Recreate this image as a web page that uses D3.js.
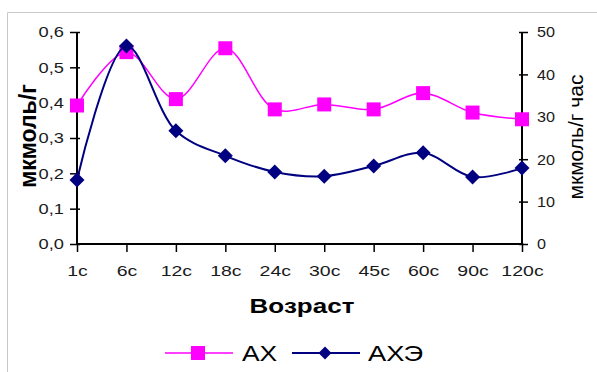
<!DOCTYPE html>
<html>
<head>
<meta charset="utf-8">
<script src="https://cdn.jsdelivr.net/npm/d3@7"></script>
<style>
  html, body { margin: 0; padding: 0; background: #fff; }
  svg { display: block; font-family: "Liberation Sans", Arial, sans-serif; }
</style>
</head>
<body>
<svg id="chart" width="597" height="372"></svg>
<script>
// Age groups (days)
const categories = ["1с", "6с", "12с", "18с", "24с", "30с", "45с", "60с", "90с", "120с"];
// АХ, мкмоль/г (left axis)
const axValues = [0.392, 0.543, 0.41, 0.554, 0.381, 0.395, 0.381, 0.427, 0.372, 0.353];
// АХЭ, мкмоль/г час (right axis)
const acheValues = [15.1, 46.7, 26.7, 20.8, 17.0, 16.0, 18.4, 21.5, 15.8, 17.9];
const leftTicks = [0, 0.1, 0.2, 0.3, 0.4, 0.5, 0.6];
const rightTicks = [0, 10, 20, 30, 40, 50];
const seriesNames = ["АХ", "АХЭ"];

const svg = d3.select("#chart");
const plot = { left: 77, right: 522, top: 32, bottom: 244 };

// widen horizontal text the way the old renderer spaced it
function widen(sel, factor) {
  sel.each(function () {
    const w = this.getComputedTextLength();
    d3.select(this).attr("textLength", (w * factor).toFixed(1)).attr("lengthAdjust", "spacingAndGlyphs");
  });
}

// outer frame
svg.append("path")
  .attr("d", "M7.5,400 V12.5 H600")
  .attr("fill", "none").attr("stroke", "#c8c8c8").attr("stroke-width", 1);

const x = d3.scalePoint().domain(categories).range([plot.left, plot.right]);
const yL = d3.scaleLinear().domain([0, 0.6]).range([plot.bottom, plot.top]);
const yR = d3.scaleLinear().domain([0, 50]).range([plot.bottom, plot.top]);

const fmtL = v => d3.format(".1f")(v).replace(".", ",");

// left axis
const gL = svg.append("g").attr("transform", `translate(${plot.left},0)`)
  .call(d3.axisLeft(yL).tickValues(leftTicks).tickFormat(fmtL).tickSize(7).tickPadding(6));
gL.selectAll(".tick line").attr("x1", 3).attr("x2", -7);
// right axis
const gR = svg.append("g").attr("transform", `translate(${plot.right},0)`)
  .call(d3.axisRight(yR).tickValues(rightTicks).tickSize(6).tickPadding(9));
gR.selectAll(".tick line").attr("x1", -3).attr("x2", 6);
// bottom axis
const gB = svg.append("g").attr("transform", `translate(0,${plot.bottom})`)
  .call(d3.axisBottom(x).tickSize(8).tickPadding(16));
gB.selectAll(".tick line").attr("y1", -1).attr("y2", 8);

[gL, gR, gB].forEach(g => {
  g.select(".domain").attr("stroke", "#000").attr("stroke-width", 2);
  g.selectAll(".tick line").attr("stroke", "#000").attr("stroke-width", 1.5);
  g.selectAll(".tick text").attr("fill", "#1a1a1a")
    .attr("font-family", "Liberation Sans, Arial, sans-serif").attr("font-size", 15);
});
gL.select(".domain").attr("d", `M0,${plot.bottom}V${plot.top}`);
gR.select(".domain").attr("d", `M0,${plot.bottom}V${plot.top}`);
gB.select(".domain").attr("d", `M${plot.left},0H${plot.right}`);
gB.selectAll(".tick text").attr("dy", "0.55em");

widen(gL.selectAll(".tick text"), 1.22);
widen(gR.selectAll(".tick text"), 1.08);
widen(gB.selectAll(".tick text"), 1.3);

// axis titles
svg.append("text")
  .attr("transform", "translate(36,136) rotate(-90)")
  .attr("text-anchor", "middle")
  .attr("font-size", 23).attr("font-weight", "bold").attr("fill", "#000")
  .text("мкмоль/г");
svg.append("text")
  .attr("transform", "translate(583,137) rotate(-90)")
  .attr("text-anchor", "middle")
  .attr("font-size", 21).attr("fill", "#000")
  .text("мкмоль/г час");
const xTitle = svg.append("text")
  .attr("x", 302).attr("y", 313)
  .attr("text-anchor", "middle")
  .attr("font-size", 20).attr("font-weight", "bold").attr("fill", "#000")
  .text("Возраст");
widen(xTitle, 1.3);

const curve = d3.curveCatmullRom.alpha(0.5);

// АХ series
const axLine = d3.line().x((d, i) => x(categories[i])).y(d => yL(d)).curve(curve);
svg.append("path").datum(axValues)
  .attr("d", axLine).attr("fill", "none").attr("stroke", "#ff00ff").attr("stroke-width", 1.5);
svg.selectAll(".axm").data(axValues).enter().append("rect")
  .attr("x", (d, i) => x(categories[i]) - 7).attr("y", d => yL(d) - 7)
  .attr("width", 14).attr("height", 14).attr("fill", "#ff00ff");

// АХЭ series
const acheLine = d3.line().x((d, i) => x(categories[i])).y(d => yR(d)).curve(curve);
svg.append("path").datum(acheValues)
  .attr("d", acheLine).attr("fill", "none").attr("stroke", "#000080").attr("stroke-width", 2);
const diamond = (cx, cy, r) => `M${cx},${cy - r}L${cx + r},${cy}L${cx},${cy + r}L${cx - r},${cy}Z`;
svg.selectAll(".achem").data(acheValues).enter().append("path")
  .attr("d", (d, i) => diamond(x(categories[i]), yR(d), 7.5))
  .attr("fill", "#000080");

// legend
const lg = svg.append("g");
lg.append("line").attr("x1", 165).attr("x2", 233).attr("y1", 353).attr("y2", 353)
  .attr("stroke", "#ff00ff").attr("stroke-width", 1.5);
lg.append("rect").attr("x", 191).attr("y", 346).attr("width", 14).attr("height", 14).attr("fill", "#ff00ff");
const t1 = lg.append("text").attr("x", 242).attr("y", 361).attr("font-size", 22).attr("fill", "#000").text(seriesNames[0]);
lg.append("line").attr("x1", 292).attr("x2", 360).attr("y1", 353).attr("y2", 353)
  .attr("stroke", "#000080").attr("stroke-width", 2);
lg.append("path").attr("d", diamond(325, 353, 6.5)).attr("fill", "#000080");
const t2 = lg.append("text").attr("x", 368).attr("y", 361).attr("font-size", 22).attr("fill", "#000").text(seriesNames[1]);
widen(t1, 1.2);
widen(t2, 1.24);
</script>
</body>
</html>
